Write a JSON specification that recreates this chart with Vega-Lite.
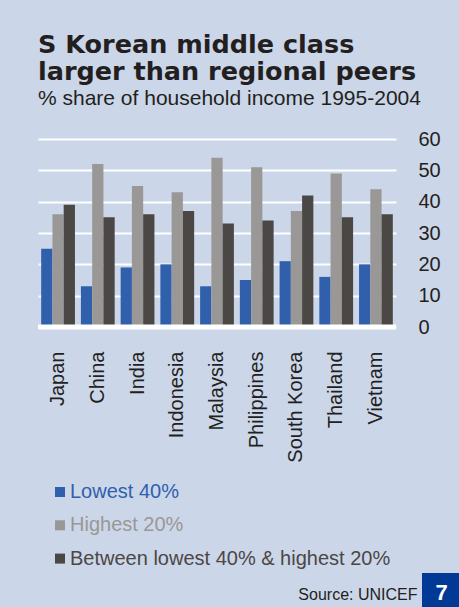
{
  "$schema": "https://vega.github.io/schema/vega-lite/v6.json",
  "width": 358,
  "height": 188,
  "padding": {"left": 35, "top": 32, "right": 0, "bottom": 0},
  "background": "#cbd6e9",
  "config": {"view": {"stroke": null}, "font": "Liberation Sans"},
  "title": {
    "text": ["S Korean middle class", "larger than regional peers"],
    "subtitle": "% share of household income 1995-2004",
    "anchor": "start",
    "frame": "group",
    "font": "DejaVu Sans",
    "fontSize": 25.5,
    "fontWeight": "bold",
    "lineHeight": 27,
    "color": "#231f20",
    "subtitleFont": "Liberation Sans",
    "subtitleFontSize": 21,
    "subtitleColor": "#231f20",
    "subtitlePadding": 3,
    "offset": 20
  },
  "layer": [
    {
      "data": {
        "values": [
          {"country": "Japan", "group": "Lowest 40%", "value": 25},
          {"country": "Japan", "group": "Highest 20%", "value": 36},
          {"country": "Japan", "group": "Between lowest 40% & highest 20%", "value": 39},
          {"country": "China", "group": "Lowest 40%", "value": 13},
          {"country": "China", "group": "Highest 20%", "value": 52},
          {"country": "China", "group": "Between lowest 40% & highest 20%", "value": 35},
          {"country": "India", "group": "Lowest 40%", "value": 19},
          {"country": "India", "group": "Highest 20%", "value": 45},
          {"country": "India", "group": "Between lowest 40% & highest 20%", "value": 36},
          {"country": "Indonesia", "group": "Lowest 40%", "value": 20},
          {"country": "Indonesia", "group": "Highest 20%", "value": 43},
          {"country": "Indonesia", "group": "Between lowest 40% & highest 20%", "value": 37},
          {"country": "Malaysia", "group": "Lowest 40%", "value": 13},
          {"country": "Malaysia", "group": "Highest 20%", "value": 54},
          {"country": "Malaysia", "group": "Between lowest 40% & highest 20%", "value": 33},
          {"country": "Philippines", "group": "Lowest 40%", "value": 15},
          {"country": "Philippines", "group": "Highest 20%", "value": 51},
          {"country": "Philippines", "group": "Between lowest 40% & highest 20%", "value": 34},
          {"country": "South Korea", "group": "Lowest 40%", "value": 21},
          {"country": "South Korea", "group": "Highest 20%", "value": 37},
          {"country": "South Korea", "group": "Between lowest 40% & highest 20%", "value": 42},
          {"country": "Thailand", "group": "Lowest 40%", "value": 16},
          {"country": "Thailand", "group": "Highest 20%", "value": 49},
          {"country": "Thailand", "group": "Between lowest 40% & highest 20%", "value": 35},
          {"country": "Vietnam", "group": "Lowest 40%", "value": 20},
          {"country": "Vietnam", "group": "Highest 20%", "value": 44},
          {"country": "Vietnam", "group": "Between lowest 40% & highest 20%", "value": 36}
        ]
      },
      "mark": {"type": "bar"},
      "encoding": {
        "x": {
          "field": "country",
          "type": "nominal",
          "sort": null,
          "scale": {"paddingInner": 0.15, "paddingOuter": 0.08},
          "axis": {
            "labelAngle": -90,
            "labelPadding": 24,
            "labelFontSize": 20,
            "labelColor": "#231f20",
            "ticks": false,
            "domain": false,
            "grid": false,
            "title": "Source: UNICEF",
            "titleFontSize": 16,
            "titleFontWeight": "normal",
            "titleColor": "#231f20",
            "titleAlign": "right",
            "titleBaseline": "middle",
            "titleX": 379,
            "titleY": 267
          }
        },
        "xOffset": {
          "field": "group",
          "type": "nominal",
          "scale": {"domain": ["Lowest 40%", "Highest 20%", "Between lowest 40% & highest 20%"]}
        },
        "y": {
          "field": "value",
          "type": "quantitative",
          "scale": {"domain": [0, 60]},
          "axis": {
            "orient": "right",
            "values": [0, 10, 20, 30, 40, 50, 60],
            "tickCount": 7,
            "labelOverlap": false,
            "grid": true,
            "gridColor": "white",
            "gridWidth": 2,
            "gridOpacity": 1,
            "ticks": false,
            "domain": false,
            "labelPadding": 22,
            "labelFontSize": 20,
            "labelColor": "#231f20",
            "title": null
          }
        },
        "color": {
          "field": "group",
          "type": "nominal",
          "scale": {
            "domain": ["Lowest 40%", "Highest 20%", "Between lowest 40% & highest 20%"],
            "range": ["#3060ac", "#999896", "#4b4745"]
          },
          "legend": {
            "orient": "none",
            "legendX": 12,
            "legendY": 343,
            "direction": "vertical",
            "title": null,
            "symbolType": "square",
            "symbolSize": 100,
            "symbolStrokeWidth": 0,
            "symbolOpacity": 1,
            "labelFontSize": 20,
            "labelOffset": 0,
            "rowPadding": 13.3,
            "padding": 0,
            "labelLimit": 400,
            "encode": {
              "labels": {"update": {"fill": {"scale": "color", "field": "value"}}}
            }
          }
        }
      }
    },
    {
      "data": {"values": [{"v": 0}]},
      "mark": {"type": "rule", "color": "white", "strokeWidth": 5},
      "encoding": {
        "y": {
          "field": "v",
          "type": "quantitative",
          "axis": {
            "orient": "right",
            "values": [0, 10, 20, 30, 40, 50, 60],
            "tickCount": 7,
            "labelOverlap": false,
            "grid": true,
            "gridColor": "white",
            "gridWidth": 2,
            "gridOpacity": 1,
            "ticks": false,
            "domain": false,
            "labelPadding": 22,
            "labelFontSize": 20,
            "labelColor": "#231f20",
            "title": null
          }
        }
      }
    },
    {
      "data": {"values": [{"page": "7"}]},
      "mark": {"type": "point", "filled": true, "opacity": 0, "color": "#003a96"},
      "encoding": {
        "shape": {
          "field": "page",
          "type": "nominal",
          "scale": {"range": ["square"]},
          "legend": {
            "orient": "none",
            "legendX": 384,
            "legendY": 434,
            "title": null,
            "symbolType": "square",
            "symbolSize": 1521,
            "symbolFillColor": "#003a96",
            "symbolStrokeColor": "#003a96",
            "symbolStrokeWidth": 0,
            "symbolOpacity": 1,
            "labelColor": "white",
            "labelFontSize": 22,
            "labelFontWeight": "bold",
            "labelAlign": "center",
            "labelOffset": -19.5,
            "padding": 0,
            "encode": {
              "symbols": {"update": {"fill": {"value": "#003a96"}, "opacity": {"value": 1}}}
            }
          }
        }
      }
    }
  ]
}
